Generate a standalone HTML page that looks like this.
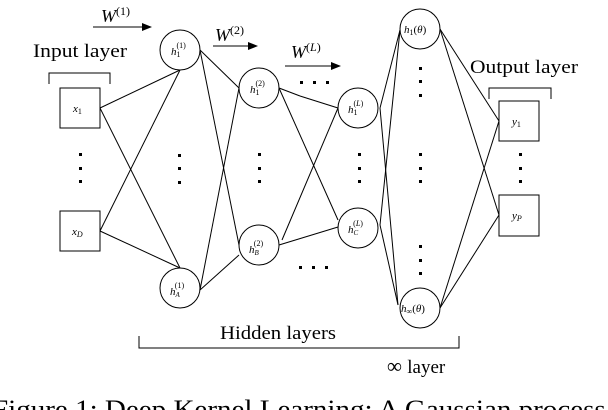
<!DOCTYPE html>
<html><head><meta charset="utf-8"><style>
html,body{margin:0;padding:0;background:#fff;width:608px;height:410px;overflow:hidden}
svg{display:block}
text{font-family:"Liberation Serif",serif;fill:#000}
.i{font-style:italic}
</style></head><body>
<svg width="608" height="410" viewBox="0 0 608 410" xmlns="http://www.w3.org/2000/svg">
<g stroke="#000" stroke-width="1" fill="none">
<line x1="100" y1="108" x2="180" y2="70"/>
<line x1="100" y1="108" x2="180" y2="268"/>
<line x1="100" y1="231" x2="180" y2="70"/>
<line x1="100" y1="231" x2="180" y2="268"/>
<line x1="200" y1="50" x2="239" y2="88"/>
<line x1="200" y1="50" x2="239" y2="245"/>
<line x1="200" y1="290" x2="239" y2="88"/>
<line x1="200" y1="290" x2="239" y2="255"/>
<line x1="279" y1="88" x2="300" y2="96"/>
<line x1="279" y1="88" x2="338" y2="220"/>
<line x1="338" y1="108" x2="282" y2="240"/>
<line x1="279" y1="245" x2="338" y2="227"/>
<line x1="300" y1="96" x2="338" y2="108"/>
<line x1="380" y1="108" x2="400" y2="30"/>
<line x1="380" y1="108" x2="398" y2="305"/>
<line x1="380" y1="225" x2="400" y2="30"/>
<line x1="380" y1="225" x2="398" y2="305"/>
<line x1="440" y1="29" x2="499" y2="121"/>
<line x1="440" y1="29" x2="499" y2="215"/>
<line x1="440" y1="308" x2="499" y2="121"/>
<line x1="440" y1="308" x2="499" y2="215"/>
<rect x="60" y="88" width="40" height="40" fill="#fff"/>
<rect x="60" y="211" width="40" height="40" fill="#fff"/>
<rect x="499" y="101" width="40" height="40" fill="#fff"/>
<rect x="499" y="195" width="40" height="41" fill="#fff"/>
<circle cx="180" cy="50" r="20" fill="#fff"/>
<circle cx="180" cy="288" r="20" fill="#fff"/>
<circle cx="259" cy="88" r="20" fill="#fff"/>
<circle cx="259" cy="245" r="20" fill="#fff"/>
<circle cx="358" cy="108" r="20" fill="#fff"/>
<circle cx="358" cy="228" r="20" fill="#fff"/>
<circle cx="420" cy="29" r="20" fill="#fff"/>
<circle cx="420" cy="308" r="20" fill="#fff"/>
<polyline points="49,84 49,73 110,73 110,84"/>
<polyline points="489,99 489,88 551,88 551,99"/>
<polyline points="139,336 139,348 459,348 459,336"/>
<line x1="93" y1="27" x2="145" y2="27"/>
<line x1="213" y1="46" x2="251" y2="46"/>
<line x1="285" y1="66" x2="334" y2="66"/>
</g>
<g fill="#000">
<polygon points="152,27 142,23 142,31"/>
<polygon points="258,46 248,42 248,50"/>
<polygon points="341,66 331,62 331,70"/>
<rect x="79" y="153" width="3" height="3"/><rect x="79" y="167" width="3" height="3"/><rect x="79" y="180" width="3" height="3"/>
<rect x="178" y="154" width="3" height="3"/><rect x="178" y="167" width="3" height="3"/><rect x="178" y="181" width="3" height="3"/>
<rect x="258" y="153" width="3" height="3"/><rect x="258" y="167" width="3" height="3"/><rect x="258" y="180" width="3" height="3"/>
<rect x="358" y="153" width="3" height="3"/><rect x="358" y="167" width="3" height="3"/><rect x="358" y="180" width="3" height="3"/>
<rect x="419" y="67" width="3" height="3"/><rect x="419" y="80" width="3" height="3"/><rect x="419" y="94" width="3" height="3"/>
<rect x="419" y="153" width="3" height="3"/><rect x="419" y="167" width="3" height="3"/><rect x="419" y="180" width="3" height="3"/>
<rect x="419" y="245" width="3" height="3"/><rect x="419" y="259" width="3" height="3"/><rect x="419" y="272" width="3" height="3"/>
<rect x="519" y="153" width="3" height="3"/><rect x="519" y="167" width="3" height="3"/><rect x="519" y="180" width="3" height="3"/>
<rect x="300" y="81" width="3" height="3"/><rect x="313" y="81" width="3" height="3"/><rect x="326" y="81" width="3" height="3"/>
<rect x="299" y="266" width="3" height="3"/><rect x="312" y="266" width="3" height="3"/><rect x="325" y="266" width="3" height="3"/>
</g>
<text x="33" y="57" font-size="19" textLength="94" lengthAdjust="spacingAndGlyphs">Input layer</text>
<text x="470" y="73" font-size="19" textLength="108" lengthAdjust="spacingAndGlyphs">Output layer</text>
<text x="220" y="339" font-size="19" textLength="116" lengthAdjust="spacingAndGlyphs">Hidden layers</text>
<text x="387" y="373" font-size="21">∞ <tspan font-size="19">layer</tspan></text>
<text x="101" y="22" font-size="18" class="i">W<tspan font-style="normal" font-size="12" dy="-7">(1)</tspan></text>
<text x="215" y="41" font-size="18" class="i">W<tspan font-style="normal" font-size="12" dy="-7">(2)</tspan></text>
<text x="291" y="58" font-size="18" class="i">W<tspan font-style="normal" font-size="12" dy="-7">(</tspan><tspan font-size="12">L</tspan><tspan font-style="normal" font-size="12">)</tspan></text>
<text x="73" y="112" font-size="11" class="i">x<tspan font-style="normal" font-size="8" dy="2">1</tspan></text>
<text x="72" y="235" font-size="11" class="i">x<tspan font-size="8" dy="2">D</tspan></text>
<text x="512" y="125" font-size="11" class="i">y<tspan font-style="normal" font-size="8" dy="2">1</tspan></text>
<text x="512" y="219" font-size="11" class="i">y<tspan font-size="8" dy="2">P</tspan></text>
<text x="171" y="55" font-size="11" class="i">h<tspan font-style="normal" font-size="8" dy="2">1</tspan><tspan font-style="normal" font-size="8" dx="-4" dy="-9">(1)</tspan></text>
<text x="170" y="295" font-size="11" class="i">h<tspan font-size="7" dy="2">A</tspan><tspan font-style="normal" font-size="8" dx="-5" dy="-9">(1)</tspan></text>
<text x="250" y="93" font-size="11" class="i">h<tspan font-style="normal" font-size="8" dy="2">1</tspan><tspan font-style="normal" font-size="8" dx="-4" dy="-9">(2)</tspan></text>
<text x="249" y="253" font-size="11" class="i">h<tspan font-size="7" dy="2">B</tspan><tspan font-style="normal" font-size="8" dx="-5" dy="-9">(2)</tspan></text>
<text x="348" y="113" font-size="11" class="i">h<tspan font-style="normal" font-size="8" dy="2">1</tspan><tspan font-style="normal" font-size="8" dx="-4" dy="-9">(</tspan><tspan font-size="8">L</tspan><tspan font-style="normal" font-size="8">)</tspan></text>
<text x="348" y="233" font-size="11" class="i">h<tspan font-size="7" dy="2">C</tspan><tspan font-style="normal" font-size="8" dx="-5" dy="-9">(</tspan><tspan font-size="8">L</tspan><tspan font-style="normal" font-size="8">)</tspan></text>
<text x="404" y="33" font-size="11" class="i">h<tspan font-style="normal" font-size="8" dy="2">1</tspan><tspan font-style="normal" dy="-2">(</tspan>θ<tspan font-style="normal">)</tspan></text>
<text x="401" y="312" font-size="11" class="i">h<tspan font-style="normal" font-size="8" dy="2">∞</tspan><tspan font-style="normal" dy="-2">(</tspan>θ<tspan font-style="normal">)</tspan></text>
<text x="-8" y="418" font-size="26" textLength="650" lengthAdjust="spacingAndGlyphs">Figure 1: Deep Kernel Learning: A Gaussian process wi</text>
</svg>
</body></html>
